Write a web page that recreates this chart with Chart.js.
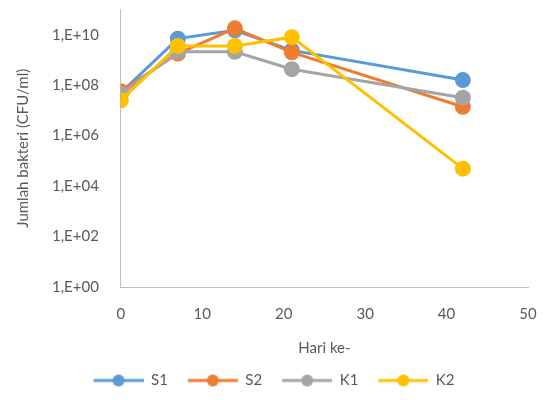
<!DOCTYPE html>
<html>
<head>
<meta charset="utf-8">
<script src="https://cdn.jsdelivr.net/npm/chart.js@4.4.0/dist/chart.umd.min.js"></script>
<style>
  html, body { margin: 0; padding: 0; background: #fff; }
  #wrap { width: 545px; height: 400px; }
</style>
</head>
<body>
<div id="wrap"><canvas id="chart"></canvas></div>
<script>
const days = [0, 7, 14, 21, 42];
const s1 = [5.0e7, 7.0e9, 1.5e10, 2.4e9, 1.6e8];
const s2 = [5.8e7, 1.8e9, 1.8e10, 2.0e9, 1.4e7];
const k1 = [4.4e7, 2.1e9, 2.1e9, 4.3e8, 3.2e7];
const k2 = [2.5e7, 3.6e9, 3.6e9, 8.0e9, 4.9e4];
const seriesNames = ['S1', 'S2', 'K1', 'K2'];
const seriesColors = ['#5B9BD5', '#ED7D31', '#A5A5A5', '#FFC000'];
const yTicks = [1, 1e2, 1e4, 1e6, 1e8, 1e10];
const xTicks = [0, 10, 20, 30, 40, 50];

// legend marker: line with a dot in the middle, like Excel
// (transparent margin on the left gives the gap between items)
function legendMark(color) {
    const c = document.createElement('canvas');
    c.width = 60; c.height = 14;
    const g = c.getContext('2d');
    g.strokeStyle = color;
    g.lineWidth = 3;
    g.beginPath(); g.moveTo(10, 7); g.lineTo(60, 7); g.stroke();
    g.fillStyle = color;
    g.beginPath(); g.arc(35, 7, 6, 0, Math.PI * 2); g.fill();
    return c;
}

// later series sit on top, as in the original
const datasets = [s1, s2, k1, k2].map(function(vals, i) {
    return {
        label: seriesNames[i],
        data: days.map((d, j) => ({ x: d, y: vals[j] })),
        borderColor: seriesColors[i],
        backgroundColor: seriesColors[i],
        borderWidth: 3,
        pointRadius: 6.5,
        pointHoverRadius: 6.5,
        tension: 0,
        order: 4 - i
    };
});

const textColor = '#595959';
const font = { family: 'Lato, "Open Sans", sans-serif', size: 15 };

new Chart(document.getElementById('chart').getContext('2d'), {
    type: 'line',
    data: { datasets: datasets },
    options: {
        responsive: true,
        maintainAspectRatio: false,
        animation: false,
        layout: { padding: { left: 10, right: 17, top: 6, bottom: 2 } },
        plugins: {
            legend: {
                position: 'bottom',
                labels: {
                    color: textColor,
                    font: font,
                    usePointStyle: true,
                    pointStyleWidth: 60,
                    boxHeight: 14,
                    padding: 10,
                    generateLabels: function(chart) {
                        return chart.data.datasets.map((ds, i) => ({
                            text: ds.label,
                            fontColor: textColor,
                            pointStyle: legendMark(ds.borderColor),
                            datasetIndex: i,
                            hidden: false,
                            lineWidth: 0
                        }));
                    }
                }
            },
            tooltip: { enabled: false }
        },
        scales: {
            x: {
                type: 'linear',
                min: 0,
                max: 50,
                afterBuildTicks: function(scale) {
                    scale.ticks = xTicks.map(v => ({ value: v }));
                },
                afterFit: function(scale) {
                    scale.paddingLeft = 0;
                    scale.paddingRight = 0;
                },
                grid: { display: false },
                border: { display: true, color: '#BFBFBF', width: 1 },
                ticks: { color: textColor, font: font, padding: 10 },
                title: { display: true, text: 'Hari ke-', color: textColor, font: font, padding: { top: 6, bottom: 6 } }
            },
            y: {
                type: 'logarithmic',
                min: 1,
                max: 1e11,
                afterBuildTicks: function(scale) {
                    scale.ticks = yTicks.map(v => ({ value: v }));
                },
                afterFit: function(scale) {
                    scale.paddingTop = 0;
                    scale.paddingBottom = 0;
                },
                grid: { display: false },
                border: { display: true, color: '#BFBFBF', width: 1 },
                ticks: {
                    color: textColor,
                    font: font,
                    padding: 14,
                    callback: function(value) {
                        const e = Math.round(Math.log10(value));
                        return '1,E+' + String(e).padStart(2, '0');
                    }
                },
                title: { display: true, text: 'Jumlah bakteri (CFU/ml)', color: textColor, font: font, padding: { bottom: 6 } }
            }
        }
    }
});
</script>
</body>
</html>
